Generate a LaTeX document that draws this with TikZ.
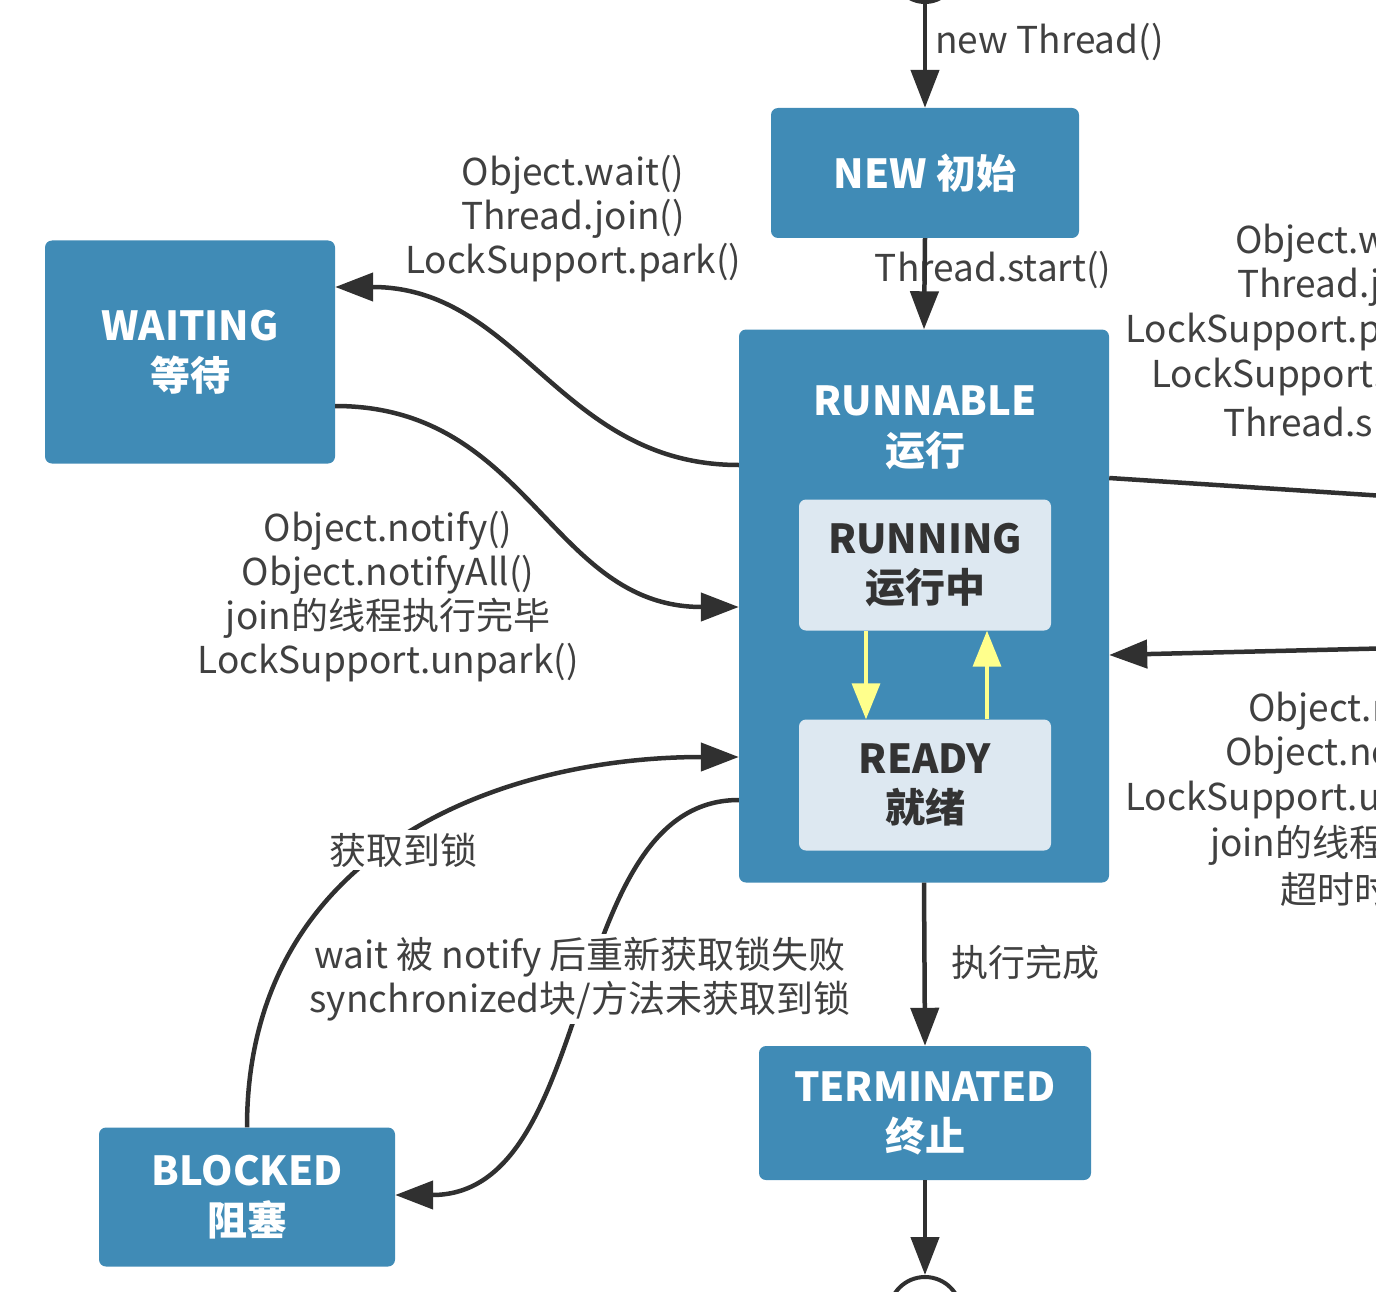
\documentclass[tikz,border=0pt]{standalone}
\usepackage{fontspec}
\setmainfont{Noto Sans CJK SC}
\usetikzlibrary{arrows.meta}
\definecolor{boxblue}{RGB}{64,139,182}
\definecolor{boxlight}{RGB}{221,232,241}
\definecolor{lineblack}{RGB}{48,48,48}
\definecolor{labelgray}{RGB}{64,64,64}
\definecolor{switchyellow}{RGB}{255,255,140}
\begin{document}
\begin{tikzpicture}
[
 x=1pt, y=-1pt,
 inner sep=0pt,
 STATE/.style={rectangle, rounded corners=7pt, fill=boxblue, text=white, align=center, font=\fontsize{40}{50}\selectfont\bfseries},
 SUBSTATE/.style={rectangle, rounded corners=7pt, fill=boxlight, text=black!80, align=center, minimum width=252pt, minimum height=131pt, font=\fontsize{40}{49}\selectfont\bfseries},
 LABEL/.style={text=labelgray, align=center, inner sep=3pt, font=\fontsize{37}{44}\selectfont},
 ARR/.style={draw=lineblack, line width=4.5pt, -{Triangle[length=38pt,width=28pt]}},
 YARR/.style={draw=switchyellow, line width=3.5pt, -{Triangle[length=36pt,width=28pt]}},
 ]
\path[use as bounding box, clip] (0,0) rectangle (1376,1292);
%
\node [circle, fill=lineblack, minimum size=68pt] (START) at (925,-30) {};
\node [circle, draw=lineblack, line width=4pt, minimum size=72pt] (END) at (925,1313) {};
%
\node [STATE, minimum width=308pt, minimum height=130pt] (NEW)        at (925,173)  {NEW 初始};
\node [STATE, minimum width=370pt, minimum height=553pt] (RUNNABLE)   at (924,606)  {};
\node [STATE]                                              (RUNTITLE)   at (925,428)  {RUNNABLE\\运行};
\node [SUBSTATE]                                           (RUNNING)    at (925,565)  {RUNNING\\运行中};
\node [SUBSTATE]                                           (READY)      at (925,785)  {READY\\就绪};
\node [STATE, minimum width=290pt, minimum height=223pt] (WAITING)    at (190,352)  {WAITING\\等待};
\node [STATE, minimum width=296pt, minimum height=139pt] (BLOCKED)    at (247,1197) {BLOCKED\\阻塞};
\node [STATE, minimum width=332pt, minimum height=134pt] (TERMINATED) at (925,1113) {TERMINATED\\终止};
%
\coordinate (TWOUT) at (1400,497);
\coordinate (TWIN)  at (1400,648);
%
\node [LABEL, anchor=west] (NEWLBL)  at (932,42)  {new Thread()};
\node [LABEL]              (STARTLBL) at (993,270) {Thread.start()};
\node [LABEL] (WAITLBL)   at (573,219) {Object.wait()\\Thread.join()\\LockSupport.park()};
\node [LABEL] (NOTIFYLBL) at (388,597) {Object.notify()\\Object.notifyAll()\\join的线程执行完毕\\LockSupport.unpark()};
\node [LABEL, anchor=west] (DONELBL) at (948,962) {执行完成};
%
\foreach \y/\x/\t in {243/1232/{Object.w}, 287/1234/{Thread.jo}, 332/1122/{LockSupport.pa}, 377/1148/{LockSupport.p}, 422/1220/{Thread.sl}}
   \node [LABEL, anchor=west] at (\x,\y) {\t};
\foreach \y/\x/\t in {711/1245/{Object.n}, 755/1222/{Object.no}, 800/1122/{LockSupport.un}, 845/1207/{join的线程}, 889/1277/{超时时}}
   \node [LABEL, anchor=west] at (\x,\y) {\t};
%
\draw [ARR]  (START.south)  -- (NEW.north) ;
\draw [ARR]  (NEW.south)    -- (RUNNABLE.north) ;
\draw [ARR]  (RUNNABLE.south)   -- (TERMINATED.north) ;
\draw [ARR]  (TERMINATED.south) -- (END.north) ;
%
\draw [YARR] ([xshift=-59pt]RUNNING.south) -- ([xshift=-59pt]READY.north) ;
\draw [YARR] ([xshift=62pt]READY.north)    -- ([xshift=62pt]RUNNING.south) ;
%
\draw [ARR]  (RUNNABLE.west |- 0,465) .. controls (560,465) and (520,287) .. (WAITING.east |- 0,287) ;
\draw [ARR]  (WAITING.east |- 0,406)  .. controls (530,406) and (550,607) .. (RUNNABLE.west |- 0,607) ;
\draw [ARR]  (BLOCKED.north)          .. controls (247,850) and (500,757) .. (RUNNABLE.west |- 0,757) ;
\draw [ARR]  (RUNNABLE.west |- 0,800) .. controls (560,800) and (600,1195) .. (BLOCKED.east |- 0,1195) ;
%
\draw [ARR, -]  (RUNNABLE.east |- 0,478) -- (TWOUT) ;
\draw [ARR]     (TWIN) -- (RUNNABLE.east |- 0,655) ;
%
\node [LABEL, fill=white] (LOCKLBL) at (403,850) {获取到锁};
\node [LABEL, fill=white] (FAILLBL) at (580,979) {wait 被 notify 后重新获取锁失败\\synchronized块/方法未获取到锁};
\end{tikzpicture}
\end{document}
